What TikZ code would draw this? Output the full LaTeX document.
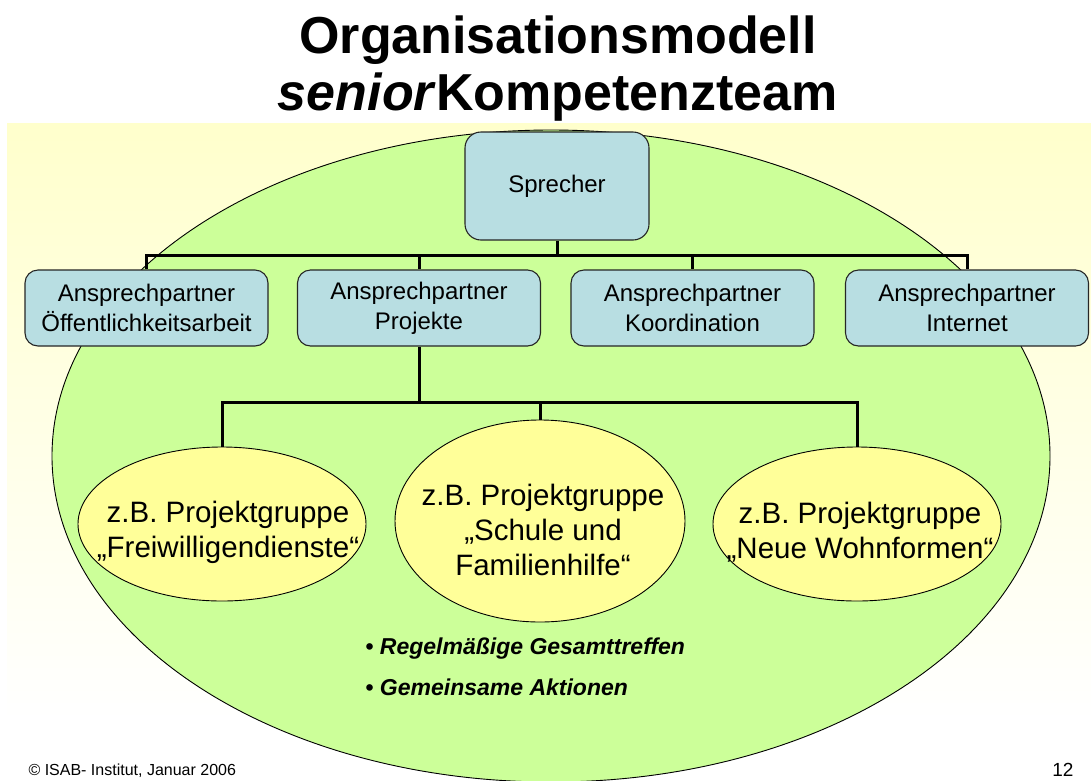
\documentclass[tikz,border=0pt]{standalone}
\usepackage{fontspec}
\setmainfont{Liberation Sans}
\usetikzlibrary{shapes.geometric}
\definecolor{bgyellow}{RGB}{255,255,204}
\definecolor{feldgruen}{RGB}{204,255,153}
\definecolor{rollenblau}{RGB}{184,222,226}
\definecolor{gruppengelb}{RGB}{255,255,153}
\begin{document}
\begin{tikzpicture}[x=1pt,y=-1pt,
 rolle/.style={draw=black!85,line width=1.1pt,fill=rollenblau,rounded corners=13pt,
  minimum width=243pt,minimum height=76pt,align=center,font=\fontsize{24}{30}\selectfont},
 gruppe/.style={draw,ellipse,fill=gruppengelb,line width=0.9pt,inner sep=0pt},
 gtext/.style={align=center,font=\fontsize{29.5}{35}\selectfont},
 verb/.style={line width=3pt}]
 \useasboundingbox (0,0) rectangle (1091,780);
 % hintergrund
 \shade[top color=bgyellow,bottom color=white] (7,123) rectangle (1091,720);
 \draw[fill=feldgruen,line width=0.9pt] (551,456) ellipse [x radius=499,y radius=326];
 \node[anchor=base,font=\fontsize{52}{57}\selectfont\bfseries] (titel1) at (558,53) {Organisationsmodell};
 \node[anchor=base,font=\fontsize{52}{57}\selectfont\bfseries] (titel2) at (558,110) {\textit{senior}Kompetenzteam};
 % rollen
 \node[rolle,minimum width=184pt,minimum height=108pt,rounded corners=16pt] (spr) at (557,186) {Sprecher};
 \node[rolle] (a1) at (146.5,308) {Ansprechpartner\\Öffentlichkeitsarbeit};
 \node[rolle] (a2) at (419,308) {Ansprechpartner\\Projekte};
 \node[rolle] (a3) at (692.5,308) {Ansprechpartner\\Koordination};
 \node[rolle] (a4) at (967,308) {Ansprechpartner\\Internet};
 % projektgruppen
 \node[gruppe,minimum width=288pt,minimum height=154pt] (g1) at (222,524) {};
 \node[gruppe,minimum width=290pt,minimum height=202pt] (g2) at (540,521) {};
 \node[gruppe,minimum width=288pt,minimum height=154pt] (g3) at (857,524) {};
 \node[gtext] (t1) at (228,532) {z.B. Projektgruppe\\„Freiwilligendienste“};
 \node[gtext] (t2) at (543,530) {z.B. Projektgruppe\\„Schule und\\Familienhilfe“};
 \node[gtext] (t3) at (860,532) {z.B. Projektgruppe\\„Neue Wohnformen“};
 % verbindungen
 \coordinate (bus1) at (557,255);
 \coordinate (bus2) at (419,402);
 \draw[verb] (spr.south) -- (bus1);
 \foreach \n in {a1,a2,a3,a4} \draw[verb] (bus1) -| (\n.north);
 \draw[verb] (a2.south) -- (bus2);
 \foreach \n in {g1,g2,g3} \draw[verb] (bus2) -| (\n.north);
 % text unten
 \node[anchor=base west,font=\fontsize{23}{26}\selectfont\bfseries] (p1) at (362,654) {•~\textit{Regelmäßige Gesamttreffen}};
 \node[anchor=base west,font=\fontsize{23}{26}\selectfont\bfseries] (p2) at (362,695) {•~\textit{Gemeinsame Aktionen}};
 \node[anchor=base west,font=\fontsize{16}{19}\selectfont] (fuss) at (25,775) {© ISAB- Institut, Januar 2006};
 \node[anchor=base east,font=\fontsize{19}{22}\selectfont] (seite) at (1077,776) {12};
\end{tikzpicture}
\end{document}
